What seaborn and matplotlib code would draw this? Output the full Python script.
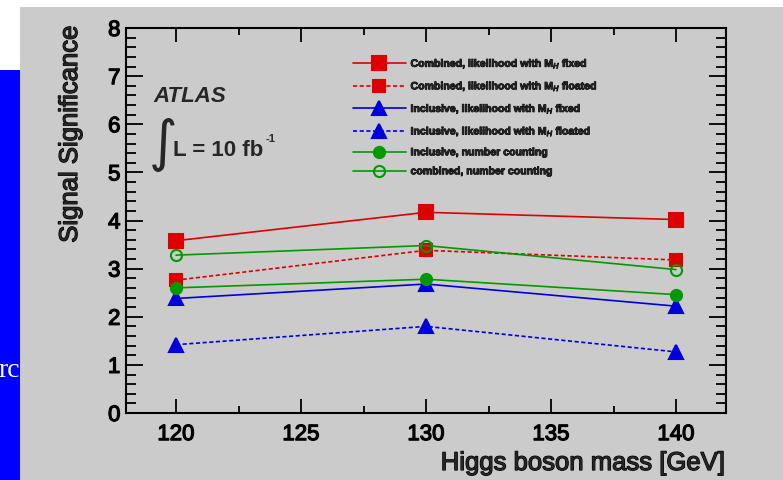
import matplotlib
matplotlib.use("Agg")
import matplotlib.pyplot as plt
import matplotlib.patches as mpatches
import matplotlib.patheffects as pe
from matplotlib.ticker import MultipleLocator
import seaborn as sns
import numpy as np

# ---------------- data ----------------
masses = [120, 130, 140]
comb_fit_fixed = [3.58, 4.17, 4.02]
comb_fit_float = [2.76, 3.38, 3.18]
incl_fit_fixed = [2.38, 2.68, 2.22]
incl_fit_float = [1.42, 1.80, 1.27]
incl_counting = [2.60, 2.78, 2.46]
comb_counting = [3.28, 3.48, 2.98]

labels = [
    "Combined, likelihood with M$_H$ fixed",
    "Combined, likelihood with M$_H$ floated",
    "Inclusive, likelihood with M$_H$ fixed",
    "Inclusive, likelihood with M$_H$ floated",
    "Inclusive, number counting",
    "combined, number counting",
]
xticks = [120, 125, 130, 135, 140]
yticks = [0, 1, 2, 3, 4, 5, 6, 7, 8]

GRAY = "#cbcbcb"
RED = "#dd0000"
BLUE = "#0000dd"
GREEN = "#009a00"

sns.set_style("ticks")
plt.rcParams["font.family"] = ["Liberation Sans", "DejaVu Sans"]

W, H = 783, 480
fig = plt.figure(figsize=(W / 100, H / 100), dpi=100)
fig.patch.set_facecolor("white")

heavy = [pe.withStroke(linewidth=0.9, foreground="black")]

# slide background pieces
fig.patches.append(mpatches.Rectangle((0, 0), 20 / W, 1 - 70 / H, transform=fig.transFigure,
                                      facecolor="#0000ff", edgecolor="none", zorder=0))
fig.text(20 / W, 1 - 377 / H, "rc", color="white", family="Liberation Serif",
         fontsize=20, ha="right", va="baseline", zorder=1)
fig.patches.append(mpatches.Rectangle((20 / W, 0), 1 - 20 / W, 1 - 7 / H, transform=fig.transFigure,
                                      facecolor=GRAY, edgecolor="none", zorder=2))

ax = fig.add_axes([126 / W, 1 - 413 / H, 600 / W, 385 / H])
ax.set_zorder(3)
ax.set_facecolor(GRAY)

series = [
    (comb_fit_fixed, RED, "s", "-", RED, 9.5),
    (comb_fit_float, RED, "s", (0, (2.5, 1.5)), RED, 9.0),
    (incl_fit_fixed, BLUE, "^", "-", BLUE, 9.5),
    (incl_fit_float, BLUE, "^", (0, (2.5, 1.5)), BLUE, 9.5),
    (incl_counting, GREEN, "o", "-", GREEN, 8.0),
    (comb_counting, GREEN, "o", "-", "none", 8.0),
]
for (vals, col, mk, ls, mfc, ms), lab in zip(series, labels):
    sns.lineplot(x=masses, y=vals, ax=ax, color=col, marker=mk, linestyle=ls,
                 markerfacecolor=mfc, markeredgecolor=col, markeredgewidth=1.5,
                 markersize=ms, linewidth=1.2, label=lab)

ax.set_xlim(118, 142)
ax.set_ylim(0, 8)
ax.set_xticks(xticks)
ax.set_yticks(yticks)
ax.xaxis.set_minor_locator(MultipleLocator(2.5))
ax.yaxis.set_minor_locator(MultipleLocator(0.2))
ax.tick_params(which="both", direction="in", top=True, right=True, colors="black", width=1.3)
ax.tick_params(axis="x", which="major", length=10, labelsize=16, pad=8)
ax.tick_params(axis="x", which="minor", length=5)
ax.tick_params(axis="y", which="major", length=12.5, labelsize=16, pad=4)
ax.tick_params(axis="y", which="minor", length=7)
for lab in ax.get_xticklabels() + ax.get_yticklabels():
    lab.set_path_effects(heavy)
for s in ax.spines.values():
    s.set_visible(True)
    s.set_linewidth(1.5)
    s.set_color("black")
ax.set_xlabel("")
ax.set_ylabel("")

fig.text(726 / W, 1 - 463 / H, "Higgs boson mass [GeV]", fontsize=18.5, ha="right", va="center",
         path_effects=heavy)
fig.text(70 / W, 1 - 25 / H, "Signal Significance", fontsize=18.5, rotation=90, ha="center", va="top",
         path_effects=heavy)

# ATLAS label
ax.text((153 - 126) / 600, (413 - 97) / 385, "ATLAS", transform=ax.transAxes, fontsize=16,
        fontweight="bold", fontstyle="italic", ha="left", va="center")
ax.text((162 - 126) / 600, (413 - 145) / 385, r"$\int$", transform=ax.transAxes, fontsize=28,
        ha="center", va="center")
ax.text((173 - 126) / 600, (413 - 150) / 385, "L = 10 fb", transform=ax.transAxes,
        fontsize=16, fontweight="bold", ha="left", va="center")
ax.text((266 - 126) / 600, (413 - 139) / 385, "-1", transform=ax.transAxes,
        fontsize=8, fontweight="bold", ha="left", va="center")

leg = ax.legend(loc="upper left", bbox_to_anchor=((353 - 126) / 600, (413 - 57) / 385),
                frameon=False, borderpad=0, borderaxespad=0, handlelength=5.0,
                handletextpad=0.45, labelspacing=0.85, prop={"size": 7.6, "weight": "bold"})
for t in leg.get_texts():
    t.set_path_effects([pe.withStroke(linewidth=0.6, foreground="black")])

fig.savefig("out.png", dpi=100, facecolor=fig.get_facecolor())
